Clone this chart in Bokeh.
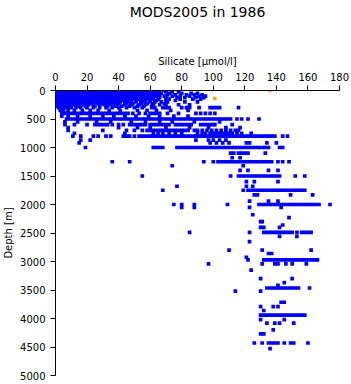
from bokeh.plotting import figure
from bokeh.models import Range1d, LinearAxis, FixedTicker
from bokeh.embed import file_html
from bokeh.resources import INLINE

title_text = "MODS2005 in 1986"
x_label = "Silicate [µmol/l]"
y_label = "Depth [m]"
x_ticks = [0, 20, 40, 60, 80, 100, 120, 140, 160, 180]
y_ticks = [0, 500, 1000, 1500, 2000, 2500, 3000, 3500, 4000, 4500, 5000]

# surface silicate values (µmol/l) observed across the upper layer
dense = [0, 2, 4, 6, 8, 10, 12, 14, 16, 18, 20, 22, 24, 26, 28, 30,
         32, 34, 36, 38, 40, 42, 44, 46, 48, 50, 52, 54, 56, 58, 60, 62]

si_0000 = dense + [64, 66, 69]
si_0025 = dense + [65, 70, 74, 78]
si_0050 = dense + [64, 67, 72, 80, 86, 90]
si_0075 = dense + [66, 71, 76, 83, 88, 93]
si_0100 = dense + [64, 69, 74, 79, 85, 91, 95]
si_0125 = dense + [66, 70, 77, 82, 89, 94]
si_0150 = dense + [65, 72, 79, 87, 92]
si_0175 = [0, 2, 4, 6, 8, 10, 12, 14, 16, 18, 20, 22, 24, 26, 28, 30, 32, 34,
           36, 38, 40, 42, 44, 46, 48, 51, 54, 57, 60, 64, 70, 76]
si_0200 = [0, 2, 4, 6, 8, 10, 12, 14, 16, 18, 20, 22, 24, 26, 28, 30, 32, 35,
           38, 41, 44, 47, 51, 56, 60, 63, 67, 71, 82, 90]
si_0230 = [0, 2, 4, 6, 8, 10, 12, 14, 17, 20, 23, 27, 30, 33, 37, 40, 45, 49,
           54, 58, 62, 69]
si_0250 = [1, 3, 5, 7, 9, 11, 13, 15, 18, 21, 24, 28, 31, 35, 39, 44, 48, 53,
           57, 62, 66, 70, 78, 85]
si_0275 = [1, 3, 5, 7, 10, 14, 19, 25, 33, 38, 42, 47, 52, 56, 61]
si_0300 = [2, 4, 6, 8, 10, 13, 16, 20, 24, 28, 32, 36, 40, 45, 50, 55, 61, 63,
           68, 70, 72, 80, 83, 85, 91, 98, 100, 102, 104, 116]
si_0350 = [3, 5, 8, 12, 17, 22, 27, 34, 41, 52, 58, 64, 73, 84]
si_0400 = [4, 6, 8, 10, 12, 14, 16, 18, 20, 22, 24, 26, 28, 30, 32, 34, 36, 38,
           40, 42, 44, 46, 49, 53, 57, 60, 62, 64, 66, 71, 78, 89, 92, 95, 98, 101]
si_0450 = [4, 8, 14, 22, 30, 37, 44, 51, 59, 66, 75, 84]
si_0500 = [7, 9, 11, 13, 15, 17, 19, 21, 23, 25, 27, 29, 31, 33, 35, 37, 39, 41,
           43, 45, 47, 49, 51, 53, 55, 57, 59, 61, 63, 65, 67, 69, 71, 73, 75,
           77, 79, 81, 83, 85, 87, 89, 91, 93, 95, 97, 99, 101, 103, 105, 107,
           109, 111, 115, 118, 122, 129]
si_0550 = [6, 14, 26, 35, 48, 57, 66, 74, 88, 104]
si_0600 = [6, 12, 20, 25, 27, 29, 31, 33, 36, 40, 43, 47, 49, 51, 53, 55, 57,
           60, 62, 64, 66, 68, 70, 72, 76, 78, 80, 82, 84, 86, 92, 94, 96, 98,
           100, 101, 112]
si_0650 = [8, 40, 52, 60, 70, 85, 97, 108, 117]
si_0700 = [8, 30, 45, 50, 55, 58, 60, 62, 64, 66, 68, 70, 72, 74, 76, 78, 80,
           82, 84, 88, 90, 93, 96, 99, 102, 105, 108, 111, 114, 116]
si_0750 = [12, 44, 62, 65, 68, 72, 76, 80, 90, 93, 95, 98, 100, 102, 104, 106,
           108, 110, 112, 115, 118, 124]
si_0800 = [11, 16, 24, 27, 32, 35, 43, 45, 47, 50, 53, 55, 57, 59, 61, 63, 65,
           67, 69, 71, 73, 75, 77, 79, 81, 83, 85, 87, 89, 91, 93, 95, 97, 99,
           101, 103, 105, 107, 109, 111, 113, 115, 117, 119, 121, 123, 125, 127,
           129, 131, 133, 135, 137, 139, 144, 147]
si_0870 = [16, 22, 89, 97, 100, 104, 108]
si_0920 = [15, 98, 102, 106, 110, 121, 123, 134, 140]
si_1000 = [19, 62, 64, 66, 68, 77, 79, 81, 83, 85, 87, 89, 91, 93, 95, 97, 99,
           101, 103, 105, 107, 109, 111, 113, 115, 117, 119, 121, 123, 125, 127,
           129, 131, 133, 135, 142, 144]
si_1100 = [111, 113, 116, 118, 120, 122, 133]
si_1180 = [112, 117]
si_1250 = [36, 47, 94, 100, 103, 105, 107, 109, 111, 113, 115, 117, 119, 121,
           123, 125, 127, 129, 131, 133, 135, 137, 141, 144, 148]
si_1320 = [74, 119]
si_1400 = [117, 122, 135, 141]
si_1500 = [55, 111, 116, 118, 120, 122, 124, 126, 128, 130, 132, 134, 136, 138,
           140, 142, 152, 158]
si_1600 = [121, 126, 141]
si_1680 = [77, 121, 125]
si_1750 = [68, 119, 122, 124, 126, 128, 130, 132, 134, 136, 138, 140, 142, 144,
           146, 148, 150, 152, 154, 156, 158]
si_1830 = [126, 128, 149, 163]
si_1940 = [123, 135, 141]
si_2000 = [75, 80, 88, 109, 129, 131, 133, 135, 137, 139, 141, 143, 145, 147,
           149, 151, 153, 155, 157, 159, 161, 163, 165, 167, 174]
si_2050 = [80, 88, 123, 143]
si_2180 = [125]
si_2230 = [148]
si_2300 = [130, 131]
si_2360 = [144]
si_2400 = [130, 132, 142]
si_2490 = [85, 123, 132, 134, 136, 138, 140, 142, 144, 146, 148, 150, 153,
           156, 158, 160, 162]
si_2560 = [142, 153]
si_2650 = [123]
si_2800 = [110, 131, 162]
si_2860 = [135, 137]
si_2925 = [121]
si_2970 = [122, 132, 134, 136, 138, 140, 142, 144, 146, 148, 150, 152, 154,
           156, 158, 160, 162, 164, 166]
si_3040 = [97, 131, 139, 141, 146, 150, 159]
si_3150 = [124]
si_3300 = [130, 150]
si_3370 = [145]
si_3420 = [141]
si_3465 = [134, 136, 138, 140, 142, 144, 146, 148, 150, 152, 154, 161]
si_3520 = [114, 130]
si_3715 = [143, 145]
si_3790 = [130, 138, 141]
si_3860 = [132]
si_3940 = [130, 132, 134, 136, 138, 140, 142, 144, 146, 148, 150, 152, 154,
           156, 158]
si_4020 = [130, 145]
si_4080 = [134, 139, 142, 151]
si_4200 = [138]
si_4270 = [130, 132]
si_4430 = [126, 131, 135, 137, 139, 141, 145, 149, 151, 160]
si_4530 = [136]

levels = [
    (0, si_0000), (25, si_0025), (50, si_0050), (75, si_0075), (100, si_0100),
    (125, si_0125), (150, si_0150), (175, si_0175), (200, si_0200),
    (230, si_0230), (250, si_0250), (275, si_0275),
    (300, si_0300), (350, si_0350), (400, si_0400),
    (450, si_0450), (500, si_0500), (550, si_0550), (600, si_0600),
    (650, si_0650), (700, si_0700), (750, si_0750), (800, si_0800),
    (870, si_0870), (920, si_0920), (1000, si_1000), (1100, si_1100),
    (1180, si_1180), (1250, si_1250), (1320, si_1320), (1400, si_1400),
    (1500, si_1500), (1600, si_1600), (1680, si_1680), (1750, si_1750),
    (1830, si_1830), (1940, si_1940), (2000, si_2000), (2050, si_2050),
    (2180, si_2180), (2230, si_2230), (2300, si_2300), (2360, si_2360),
    (2400, si_2400), (2490, si_2490), (2560, si_2560), (2650, si_2650),
    (2800, si_2800), (2860, si_2860), (2925, si_2925), (2970, si_2970),
    (3040, si_3040), (3150, si_3150), (3300, si_3300), (3370, si_3370),
    (3420, si_3420), (3465, si_3465), (3520, si_3520), (3715, si_3715),
    (3790, si_3790), (3860, si_3860), (3940, si_3940), (4020, si_4020),
    (4080, si_4080), (4200, si_4200), (4270, si_4270), (4430, si_4430),
    (4530, si_4530),
]

flag_si = [136, 101]
flag_depth = [0, 140]

xs, ys = [], []
for d, vals in levels:
    xs.extend(vals)
    ys.extend([d] * len(vals))

p = figure(width=351, height=384, output_backend="svg", toolbar_location=None,
           x_range=Range1d(0, 180), y_range=Range1d(5000, 0),
           x_axis_location="above",
           min_border_left=54, min_border_right=12,
           min_border_top=90, min_border_bottom=9)

p.scatter(xs, ys, marker="square", size=3.7, fill_color="#0000FF",
          line_color=None)
p.scatter(flag_si, flag_depth, marker="square", size=3.5,
          fill_color="#FFA500", line_color=None)

for ax in (p.xaxis[0], p.yaxis[0]):
    ax.major_label_text_font = "DejaVu Sans"
    ax.major_label_text_font_size = "10px"
    ax.major_label_text_color = "black"
    ax.axis_label_text_font = "DejaVu Sans"
    ax.axis_label_text_font_size = "10px"
    ax.axis_label_text_font_style = "normal"
    ax.axis_label_text_color = "black"
    ax.major_tick_in = 0
    ax.major_tick_out = 5
    ax.minor_tick_line_color = None
    ax.axis_line_color = "black"
    ax.major_tick_line_color = "black"
    ax.major_label_standoff = 5

p.xaxis.ticker = x_ticks
p.yaxis.ticker = y_ticks
p.xaxis.axis_label = x_label
p.yaxis.axis_label = y_label
p.xaxis.axis_label_standoff = 3
p.yaxis.axis_label_standoff = 3

# title: an extra, tick-less axis stacked above the silicate axis
title_axis = LinearAxis(ticker=FixedTicker(ticks=[]), axis_label=title_text,
                        axis_line_color=None, major_tick_line_color=None,
                        minor_tick_line_color=None, major_tick_out=0,
                        major_tick_in=0, major_label_standoff=0,
                        axis_label_standoff=33,
                        axis_label_text_font="DejaVu Sans",
                        axis_label_text_font_size="14px",
                        axis_label_text_font_style="normal",
                        axis_label_text_color="black")
p.add_layout(title_axis, "above")

p.grid.visible = False
p.outline_line_color = None
p.background_fill_color = "white"
p.border_fill_color = "white"

open("out.html", "w").write(file_html(p, INLINE))
